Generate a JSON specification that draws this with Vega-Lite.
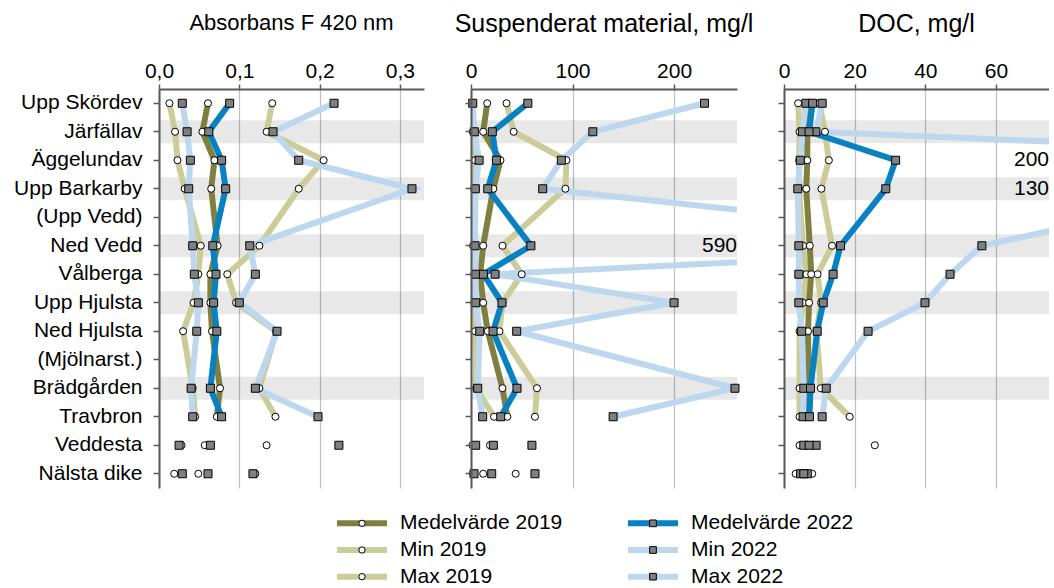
{
  "$schema": "https://vega.github.io/schema/vega-lite/v6.json",
  "padding": {"left": 13, "top": 12, "right": 0, "bottom": 0},
  "spacing": 22,
  "config": {
    "font": "Liberation Sans",
    "view": {"stroke": null},
    "locale": {"number": {"decimal": ",", "thousands": " ", "grouping": [3], "currency": ["", " kr"]}},
    "axis": {
      "labelFont": "Liberation Sans",
      "labelFontSize": 21,
      "labelColor": "#000000",
      "labelFlush": false,
      "labelOverlap": false,
      "domainColor": "#595959",
      "domainWidth": 2,
      "tickColor": "#595959",
      "tickWidth": 1.5,
      "title": null
    },
    "title": {"font": "Liberation Sans", "fontWeight": "normal", "color": "#000000", "anchor": "middle"}
  },
  "datasets": {
    "band": [
      {"station": "Järfällav"},
      {"station": "Upp Barkarby"},
      {"station": "Ned Vedd"},
      {"station": "Upp Hjulsta"},
      {"station": "Brädgården"}
    ],
    "förklaring": [
      {"serie": "Medelvärde 2019", "år": "2019", "statistik": "Medelvärde"},
      {"serie": "Min 2019", "år": "2019", "statistik": "Min"},
      {"serie": "Max 2019", "år": "2019", "statistik": "Max"},
      {"serie": "Medelvärde 2022", "år": "2022", "statistik": "Medelvärde"},
      {"serie": "Min 2022", "år": "2022", "statistik": "Min"},
      {"serie": "Max 2022", "år": "2022", "statistik": "Max"}
    ],
    "mätningar": [
      {"parameter": "abs", "station": "Upp Skördev", "nr": 0, "huvudfåra": true, "Min 2019": 0.013, "Medelvärde 2019": 0.061, "Max 2019": 0.141, "Min 2022": 0.029, "Medelvärde 2022": 0.088, "Max 2022": 0.218},
      {"parameter": "abs", "station": "Järfällav", "nr": 1, "huvudfåra": true, "Min 2019": 0.020, "Medelvärde 2019": 0.054, "Max 2019": 0.134, "Min 2022": 0.035, "Medelvärde 2022": 0.062, "Max 2022": 0.142},
      {"parameter": "abs", "station": "Äggelundav", "nr": 2, "huvudfåra": true, "Min 2019": 0.023, "Medelvärde 2019": 0.069, "Max 2019": 0.205, "Min 2022": 0.039, "Medelvärde 2022": 0.078, "Max 2022": 0.174},
      {"parameter": "abs", "station": "Upp Barkarby", "nr": 3, "huvudfåra": true, "Min 2019": 0.032, "Medelvärde 2019": 0.065, "Max 2019": 0.174, "Min 2022": 0.037, "Medelvärde 2022": 0.083, "Max 2022": 0.315},
      {"parameter": "abs", "station": "Ned Vedd", "nr": 5, "huvudfåra": true, "Min 2019": 0.052, "Medelvärde 2019": 0.073, "Max 2019": 0.125, "Min 2022": 0.042, "Medelvärde 2022": 0.067, "Max 2022": 0.113},
      {"parameter": "abs", "station": "Vålberga", "nr": 6, "huvudfåra": true, "Min 2019": 0.049, "Medelvärde 2019": 0.064, "Max 2019": 0.085, "Min 2022": 0.044, "Medelvärde 2022": 0.071, "Max 2022": 0.120},
      {"parameter": "abs", "station": "Upp Hjulsta", "nr": 7, "huvudfåra": true, "Min 2019": 0.043, "Medelvärde 2019": 0.064, "Max 2019": 0.096, "Min 2022": 0.049, "Medelvärde 2022": 0.068, "Max 2022": 0.100},
      {"parameter": "abs", "station": "Ned Hjulsta", "nr": 8, "huvudfåra": true, "Min 2019": 0.030, "Medelvärde 2019": 0.066, "Max 2019": 0.146, "Min 2022": 0.047, "Medelvärde 2022": 0.072, "Max 2022": 0.147},
      {"parameter": "abs", "station": "Brädgården", "nr": 10, "huvudfåra": true, "Min 2019": 0.042, "Medelvärde 2019": 0.076, "Max 2019": 0.125, "Min 2022": 0.040, "Medelvärde 2022": 0.064, "Max 2022": 0.120},
      {"parameter": "abs", "station": "Travbron", "nr": 11, "huvudfåra": true, "Min 2019": 0.045, "Medelvärde 2019": 0.072, "Max 2019": 0.145, "Min 2022": 0.042, "Medelvärde 2022": 0.078, "Max 2022": 0.198},
      {"parameter": "abs", "station": "Veddesta", "nr": 12, "huvudfåra": false, "Min 2019": 0.028, "Medelvärde 2019": 0.057, "Max 2019": 0.134, "Min 2022": 0.025, "Medelvärde 2022": 0.064, "Max 2022": 0.224},
      {"parameter": "abs", "station": "Nälsta dike", "nr": 13, "huvudfåra": false, "Min 2019": 0.019, "Medelvärde 2019": 0.049, "Max 2019": 0.120, "Min 2022": 0.029, "Medelvärde 2022": 0.061, "Max 2022": 0.117},

      {"parameter": "ss", "station": "Upp Skördev", "nr": 0, "huvudfåra": true, "Min 2019": 2, "Medelvärde 2019": 16, "Max 2019": 35, "Min 2022": 1.7, "Medelvärde 2022": 56, "Max 2022": 230},
      {"parameter": "ss", "station": "Järfällav", "nr": 1, "huvudfåra": true, "Min 2019": 1.7, "Medelvärde 2019": 12, "Max 2019": 42, "Min 2022": 3.3, "Medelvärde 2022": 21, "Max 2022": 120},
      {"parameter": "ss", "station": "Äggelundav", "nr": 2, "huvudfåra": true, "Min 2019": 4, "Medelvärde 2019": 29, "Max 2019": 94, "Min 2022": 8, "Medelvärde 2022": 25, "Max 2022": 89},
      {"parameter": "ss", "station": "Upp Barkarby", "nr": 3, "huvudfåra": true, "Min 2019": 3, "Medelvärde 2019": 22, "Max 2019": 93, "Min 2022": 4.3, "Medelvärde 2022": 16.5, "Max 2022": 70.6},
      {"parameter": "ss", "station": "Ned Vedd", "nr": 5, "huvudfåra": true, "Min 2019": 2, "Medelvärde 2019": 12, "Max 2019": 31, "Min 2022": 4, "Medelvärde 2022": 59, "Max 2022": 590},
      {"parameter": "ss", "station": "Vålberga", "nr": 6, "huvudfåra": true, "Min 2019": 3, "Medelvärde 2019": 9, "Max 2019": 50, "Min 2022": 4.6, "Medelvärde 2022": 12.2, "Max 2022": 23.7},
      {"parameter": "ss", "station": "Upp Hjulsta", "nr": 7, "huvudfåra": true, "Min 2019": 3, "Medelvärde 2019": 12, "Max 2019": 31, "Min 2022": 4.6, "Medelvärde 2022": 30.5, "Max 2022": 200},
      {"parameter": "ss", "station": "Ned Hjulsta", "nr": 8, "huvudfåra": true, "Min 2019": 4, "Medelvärde 2019": 16.5, "Max 2019": 28, "Min 2022": 8.6, "Medelvärde 2022": 21.7, "Max 2022": 45},
      {"parameter": "ss", "station": "Brädgården", "nr": 10, "huvudfåra": true, "Min 2019": 5, "Medelvärde 2019": 31, "Max 2019": 65, "Min 2022": 6.6, "Medelvärde 2022": 45.3, "Max 2022": 260},
      {"parameter": "ss", "station": "Travbron", "nr": 11, "huvudfåra": true, "Min 2019": 22.7, "Medelvärde 2019": 35.8, "Max 2019": 63, "Min 2022": 11.5, "Medelvärde 2022": 29.3, "Max 2022": 140},
      {"parameter": "ss", "station": "Veddesta", "nr": 12, "huvudfåra": false, "Min 2019": 1.4, "Medelvärde 2019": 18.7, "Max 2019": 21.5, "Min 2022": 4.6, "Medelvärde 2022": 22, "Max 2022": 60},
      {"parameter": "ss", "station": "Nälsta dike", "nr": 13, "huvudfåra": false, "Min 2019": 2, "Medelvärde 2019": 12, "Max 2019": 44, "Min 2022": 3, "Medelvärde 2022": 20.4, "Max 2022": 63},

      {"parameter": "doc", "station": "Upp Skördev", "nr": 0, "huvudfåra": true, "Min 2019": 4.0, "Medelvärde 2019": 6.3, "Max 2019": 10, "Min 2022": 6.2, "Medelvärde 2022": 8.1, "Max 2022": 10.8},
      {"parameter": "doc", "station": "Järfällav", "nr": 1, "huvudfåra": true, "Min 2019": 4.4, "Medelvärde 2019": 6.6, "Max 2019": 11.6, "Min 2022": 5.2, "Medelvärde 2022": 7.1, "Max 2022": 9.0},
      {"parameter": "doc", "station": "Äggelundav", "nr": 2, "huvudfåra": true, "Min 2019": 4.3, "Medelvärde 2019": 6.6, "Max 2019": 12.7, "Min 2022": 4.6, "Medelvärde 2022": 31.6, "Max 2022": 200},
      {"parameter": "doc", "station": "Upp Barkarby", "nr": 3, "huvudfåra": true, "Min 2019": 4.2, "Medelvärde 2019": 6.3, "Max 2019": 10.6, "Min 2022": 3.9, "Medelvärde 2022": 28.8, "Max 2022": 130},
      {"parameter": "doc", "station": "Ned Vedd", "nr": 5, "huvudfåra": true, "Min 2019": 5.4, "Medelvärde 2019": 7.3, "Max 2019": 13.6, "Min 2022": 4.2, "Medelvärde 2022": 16.0, "Max 2022": 56},
      {"parameter": "doc", "station": "Vålberga", "nr": 6, "huvudfåra": true, "Min 2019": 6.3, "Medelvärde 2019": 7.7, "Max 2019": 9.5, "Min 2022": 4.2, "Medelvärde 2022": 13.9, "Max 2022": 47},
      {"parameter": "doc", "station": "Upp Hjulsta", "nr": 7, "huvudfåra": true, "Min 2019": 5.4, "Medelvärde 2019": 7.1, "Max 2019": 10.5, "Min 2022": 4.2, "Medelvärde 2022": 11.1, "Max 2022": 39.9},
      {"parameter": "doc", "station": "Ned Hjulsta", "nr": 8, "huvudfåra": true, "Min 2019": 4.4, "Medelvärde 2019": 6.8, "Max 2019": 9.2, "Min 2022": 5.0, "Medelvärde 2022": 9.4, "Max 2022": 23.8},
      {"parameter": "doc", "station": "Brädgården", "nr": 10, "huvudfåra": true, "Min 2019": 4.4, "Medelvärde 2019": 7.0, "Max 2019": 10.4, "Min 2022": 5.6, "Medelvärde 2022": 7.5, "Max 2022": 11.95},
      {"parameter": "doc", "station": "Travbron", "nr": 11, "huvudfåra": true, "Min 2019": 4.4, "Medelvärde 2019": 7.0, "Max 2019": 18.6, "Min 2022": 5.4, "Medelvärde 2022": 7.2, "Max 2022": 10.8},
      {"parameter": "doc", "station": "Veddesta", "nr": 12, "huvudfåra": false, "Min 2019": 4.4, "Medelvärde 2019": 7.8, "Max 2019": 25.7, "Min 2022": 5.6, "Medelvärde 2022": 7.1, "Max 2022": 9.1},
      {"parameter": "doc", "station": "Nälsta dike", "nr": 13, "huvudfåra": false, "Min 2019": 3.3, "Medelvärde 2019": 5.5, "Max 2019": 8.0, "Min 2022": 4.7, "Medelvärde 2022": 5.6, "Max 2022": 6.6}
    ]
  },
  "resolve": {"scale": {"x": "independent", "y": "independent"}},
  "vconcat": [
    {
      "bounds": "flush",
      "spacing": 47,
      "resolve": {"scale": {"x": "independent"}},
      "hconcat": [
        {
          "width": 265,
          "height": 399,
          "title": {"text": "Absorbans F 420 nm", "fontSize": 22, "offset": 25},
          "encoding": {
            "y": {"field": "station", "type": "nominal",
                  "scale": {"domain": ["Upp Skördev", "Järfällav", "Äggelundav", "Upp Barkarby", "(Upp Vedd)", "Ned Vedd", "Vålberga", "Upp Hjulsta", "Ned Hjulsta", "(Mjölnarst.)", "Brädgården", "Travbron", "Veddesta", "Nälsta dike"], "paddingInner": 0.2, "paddingOuter": 0.1},
                  "axis": {"orient": "left", "tickSize": 6, "labelPadding": 11, "grid": false}}
          },
          "layer": [
            {
              "data": {"name": "band"},
              "mark": {"type": "rect", "fill": "#000000", "fillOpacity": 0.09},
              "encoding": {"x": {"datum": 0, "type": "quantitative", "scale": {"domain": [0, 0.33], "nice": false},
                                 "axis": {"orient": "top", "values": [0, 0.1, 0.2, 0.3], "format": ".1f", "tickSize": 5, "labelPadding": 3, "grid": true, "gridColor": "#c0c0c0", "gridWidth": 1.25}},
                           "x2": {"datum": 0.33}}
            },
            {
              "data": {"name": "mätningar"},
              "transform": [
                {"filter": "datum.parameter == 'abs'"},
                {"fold": ["Min 2019", "Max 2019", "Medelvärde 2019", "Min 2022", "Max 2022", "Medelvärde 2022"], "as": ["serie", "värde"]}
              ],
              "encoding": {"x": {"field": "värde", "type": "quantitative"}},
              "layer": [
                {
                  "transform": [{"filter": "datum.huvudfåra"}],
                  "mark": {"type": "line", "strokeWidth": 6, "clip": true},
                  "encoding": {
                    "color": {"field": "serie", "type": "nominal", "legend": null,
                              "scale": {"domain": ["Medelvärde 2019", "Min 2019", "Max 2019", "Medelvärde 2022", "Min 2022", "Max 2022"],
                                        "range": ["#7f7f40", "#cccc99", "#cccc99", "#0681c2", "#bdd7ee", "#bdd7ee"]}},
                    "order": {"field": "nr", "type": "quantitative"}
                  }
                },
                {
                  "transform": [{"filter": {"field": "serie", "oneOf": ["Min 2019", "Max 2019", "Medelvärde 2019"]}}],
                  "mark": {"type": "point", "shape": "circle", "filled": true, "fill": "#ffffff", "stroke": "#000000", "strokeWidth": 1, "size": 50, "opacity": 1}
                },
                {
                  "transform": [{"filter": {"field": "serie", "oneOf": ["Min 2022", "Max 2022", "Medelvärde 2022"]}}],
                  "mark": {"type": "point", "shape": "square", "filled": true, "fill": "#808080", "stroke": "#000000", "strokeWidth": 1, "size": 64, "opacity": 1}
                }
              ]
            }
          ]
        },
        {
          "width": 266,
          "height": 399,
          "title": {"text": "Suspenderat material, mg/l", "fontSize": 25, "offset": 23},
          "encoding": {
            "y": {"field": "station", "type": "nominal",
                  "scale": {"domain": ["Upp Skördev", "Järfällav", "Äggelundav", "Upp Barkarby", "(Upp Vedd)", "Ned Vedd", "Vålberga", "Upp Hjulsta", "Ned Hjulsta", "(Mjölnarst.)", "Brädgården", "Travbron", "Veddesta", "Nälsta dike"], "paddingInner": 0.2, "paddingOuter": 0.1},
                  "axis": {"orient": "left", "tickSize": 6, "labels": false, "grid": false}}
          },
          "layer": [
            {
              "data": {"name": "band"},
              "mark": {"type": "rect", "fill": "#000000", "fillOpacity": 0.09},
              "encoding": {"x": {"datum": 0, "type": "quantitative", "scale": {"domain": [0, 262], "nice": false},
                                 "axis": {"orient": "top", "values": [0, 100, 200], "format": "d", "tickSize": 5, "labelPadding": 3, "grid": true, "gridColor": "#c0c0c0", "gridWidth": 1.25}},
                           "x2": {"datum": 262}}
            },
            {
              "data": {"name": "mätningar"},
              "transform": [
                {"filter": "datum.parameter == 'ss'"},
                {"fold": ["Min 2019", "Max 2019", "Medelvärde 2019", "Min 2022", "Max 2022", "Medelvärde 2022"], "as": ["serie", "värde"]}
              ],
              "encoding": {"x": {"field": "värde", "type": "quantitative"}},
              "layer": [
                {
                  "transform": [{"filter": "datum.huvudfåra"}],
                  "mark": {"type": "line", "strokeWidth": 6, "clip": true},
                  "encoding": {
                    "color": {"field": "serie", "type": "nominal", "legend": null,
                              "scale": {"domain": ["Medelvärde 2019", "Min 2019", "Max 2019", "Medelvärde 2022", "Min 2022", "Max 2022"],
                                        "range": ["#7f7f40", "#cccc99", "#cccc99", "#0681c2", "#bdd7ee", "#bdd7ee"]}},
                    "order": {"field": "nr", "type": "quantitative"}
                  }
                },
                {
                  "transform": [{"filter": {"field": "serie", "oneOf": ["Min 2019", "Max 2019", "Medelvärde 2019"]}}, {"filter": "datum['värde'] <= 262"}],
                  "mark": {"type": "point", "shape": "circle", "filled": true, "fill": "#ffffff", "stroke": "#000000", "strokeWidth": 1, "size": 50, "opacity": 1}
                },
                {
                  "transform": [{"filter": {"field": "serie", "oneOf": ["Min 2022", "Max 2022", "Medelvärde 2022"]}}, {"filter": "datum['värde'] <= 262"}],
                  "mark": {"type": "point", "shape": "square", "filled": true, "fill": "#808080", "stroke": "#000000", "strokeWidth": 1, "size": 64, "opacity": 1}
                },
                {
                  "transform": [{"filter": "datum['värde'] > 262"}],
                  "mark": {"type": "text", "align": "right", "baseline": "middle", "fontSize": 21, "color": "#000000"},
                  "encoding": {"x": {"value": "width"}, "text": {"field": "värde", "type": "quantitative", "format": "d"}}
                }
              ]
            }
          ]
        },
        {
          "width": 265,
          "height": 399,
          "title": {"text": "DOC, mg/l", "fontSize": 25, "offset": 23},
          "encoding": {
            "y": {"field": "station", "type": "nominal",
                  "scale": {"domain": ["Upp Skördev", "Järfällav", "Äggelundav", "Upp Barkarby", "(Upp Vedd)", "Ned Vedd", "Vålberga", "Upp Hjulsta", "Ned Hjulsta", "(Mjölnarst.)", "Brädgården", "Travbron", "Veddesta", "Nälsta dike"], "paddingInner": 0.2, "paddingOuter": 0.1},
                  "axis": {"orient": "left", "tickSize": 6, "labels": false, "grid": false}}
          },
          "layer": [
            {
              "data": {"name": "band"},
              "mark": {"type": "rect", "fill": "#000000", "fillOpacity": 0.09},
              "encoding": {"x": {"datum": 0, "type": "quantitative", "scale": {"domain": [0, 75], "nice": false},
                                 "axis": {"orient": "top", "values": [0, 20, 40, 60], "format": "d", "tickSize": 5, "labelPadding": 3, "grid": true, "gridColor": "#c0c0c0", "gridWidth": 1.25}},
                           "x2": {"datum": 75}}
            },
            {
              "data": {"name": "mätningar"},
              "transform": [
                {"filter": "datum.parameter == 'doc'"},
                {"fold": ["Min 2019", "Max 2019", "Medelvärde 2019", "Min 2022", "Max 2022", "Medelvärde 2022"], "as": ["serie", "värde"]}
              ],
              "encoding": {"x": {"field": "värde", "type": "quantitative"}},
              "layer": [
                {
                  "transform": [{"filter": "datum.huvudfåra"}],
                  "mark": {"type": "line", "strokeWidth": 6, "clip": true},
                  "encoding": {
                    "color": {"field": "serie", "type": "nominal", "legend": null,
                              "scale": {"domain": ["Medelvärde 2019", "Min 2019", "Max 2019", "Medelvärde 2022", "Min 2022", "Max 2022"],
                                        "range": ["#7f7f40", "#cccc99", "#cccc99", "#0681c2", "#bdd7ee", "#bdd7ee"]}},
                    "order": {"field": "nr", "type": "quantitative"}
                  }
                },
                {
                  "transform": [{"filter": {"field": "serie", "oneOf": ["Min 2019", "Max 2019", "Medelvärde 2019"]}}, {"filter": "datum['värde'] <= 75"}],
                  "mark": {"type": "point", "shape": "circle", "filled": true, "fill": "#ffffff", "stroke": "#000000", "strokeWidth": 1, "size": 50, "opacity": 1}
                },
                {
                  "transform": [{"filter": {"field": "serie", "oneOf": ["Min 2022", "Max 2022", "Medelvärde 2022"]}}, {"filter": "datum['värde'] <= 75"}],
                  "mark": {"type": "point", "shape": "square", "filled": true, "fill": "#808080", "stroke": "#000000", "strokeWidth": 1, "size": 64, "opacity": 1}
                },
                {
                  "transform": [{"filter": "datum['värde'] > 75"}],
                  "mark": {"type": "text", "align": "right", "baseline": "middle", "fontSize": 21, "color": "#000000"},
                  "encoding": {"x": {"value": "width"}, "text": {"field": "värde", "type": "quantitative", "format": "d"}}
                }
              ]
            }
          ]
        }
      ]
    },
    {
      "width": 697,
      "height": 80,
      "data": {"name": "förklaring"},
      "encoding": {
        "x": {"field": "år", "type": "nominal", "scale": {"type": "point", "domain": ["2019", "2022"], "padding": 0.6976}, "axis": null},
        "y": {"field": "statistik", "type": "nominal", "scale": {"domain": ["Medelvärde", "Min", "Max"], "paddingInner": 0, "paddingOuter": 0}, "axis": null}
      },
      "layer": [
        {
          "mark": {"type": "point", "shape": "stroke", "filled": false, "strokeWidth": 6, "size": 2500, "opacity": 1, "strokeCap": "butt"},
          "encoding": {"color": {"field": "serie", "type": "nominal", "legend": null,
                                 "scale": {"domain": ["Medelvärde 2019", "Min 2019", "Max 2019", "Medelvärde 2022", "Min 2022", "Max 2022"],
                                           "range": ["#7f7f40", "#cccc99", "#cccc99", "#0681c2", "#bdd7ee", "#bdd7ee"]}}}
        },
        {
          "transform": [{"filter": {"field": "år", "equal": "2019"}}],
          "mark": {"type": "point", "shape": "circle", "filled": true, "fill": "#ffffff", "stroke": "#000000", "strokeWidth": 1, "size": 40, "opacity": 1}
        },
        {
          "transform": [{"filter": {"field": "år", "equal": "2022"}}],
          "mark": {"type": "point", "shape": "square", "filled": true, "fill": "#808080", "stroke": "#000000", "strokeWidth": 1, "size": 45, "opacity": 1}
        },
        {
          "mark": {"type": "text", "align": "left", "baseline": "middle", "dx": 38, "fontSize": 21, "color": "#000000"},
          "encoding": {"text": {"field": "serie", "type": "nominal"}}
        }
      ]
    }
  ]
}
